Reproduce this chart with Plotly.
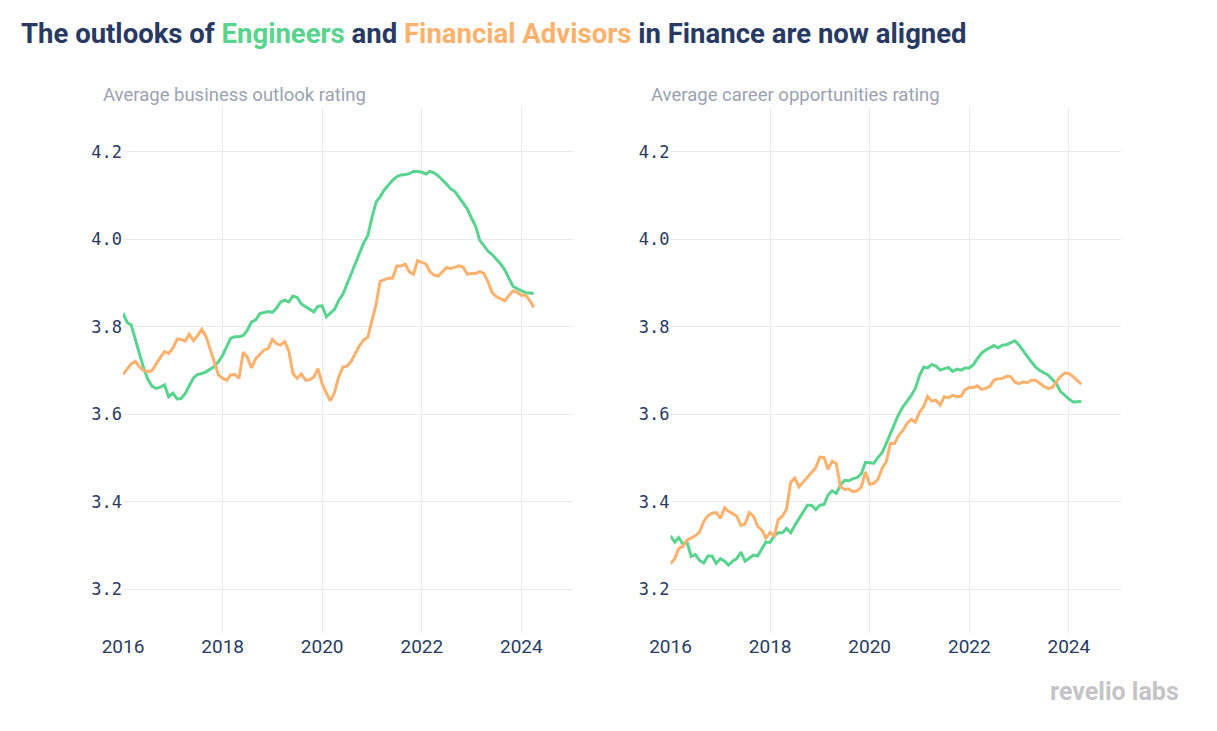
import pandas as pd
import plotly.graph_objects as go

months = pd.date_range("2016-01-01", periods=100, freq="MS")

business_engineers = [
    3.831, 3.810, 3.804, 3.772, 3.738, 3.705, 3.680, 3.664, 3.659, 3.662,
    3.667, 3.640, 3.648, 3.635, 3.636, 3.647, 3.665, 3.683, 3.691, 3.693,
    3.697, 3.702, 3.709, 3.720, 3.735, 3.755, 3.774, 3.777, 3.777, 3.780,
    3.792, 3.811, 3.816, 3.830, 3.832, 3.835, 3.833, 3.843, 3.856, 3.861,
    3.857, 3.870, 3.867, 3.852, 3.846, 3.840, 3.834, 3.847, 3.848, 3.823,
    3.831, 3.840, 3.860, 3.874, 3.897, 3.921, 3.946, 3.970, 3.992, 4.008,
    4.051, 4.086, 4.097, 4.113, 4.125, 4.135, 4.143, 4.147, 4.148, 4.150,
    4.155, 4.155, 4.153, 4.149, 4.155, 4.152, 4.145, 4.136, 4.126, 4.115,
    4.109, 4.096, 4.082, 4.069, 4.048, 4.029, 3.998, 3.986, 3.973, 3.965,
    3.955, 3.944, 3.930, 3.912, 3.892, 3.887, 3.882, 3.878, 3.877, 3.876,
]
business_advisors = [
    3.691, 3.703, 3.715, 3.721, 3.708, 3.700, 3.697, 3.700, 3.716, 3.730,
    3.743, 3.739, 3.751, 3.772, 3.771, 3.767, 3.783, 3.768, 3.780, 3.794,
    3.778, 3.748, 3.715, 3.690, 3.682, 3.678, 3.690, 3.691, 3.682, 3.742,
    3.730, 3.706, 3.727, 3.736, 3.747, 3.750, 3.771, 3.761, 3.758, 3.766,
    3.745, 3.693, 3.682, 3.692, 3.678, 3.679, 3.685, 3.704, 3.670, 3.648,
    3.631, 3.650, 3.685, 3.708, 3.710, 3.721, 3.738, 3.757, 3.770, 3.776,
    3.815, 3.853, 3.904, 3.908, 3.911, 3.911, 3.939, 3.939, 3.943, 3.926,
    3.920, 3.951, 3.947, 3.943, 3.926, 3.918, 3.916, 3.925, 3.935, 3.933,
    3.936, 3.939, 3.936, 3.920, 3.922, 3.922, 3.926, 3.922, 3.903, 3.878,
    3.869, 3.864, 3.859, 3.871, 3.882, 3.879, 3.872, 3.872, 3.861, 3.844,
]
career_engineers = [
    3.322, 3.308, 3.318, 3.303, 3.308, 3.275, 3.279, 3.266, 3.260, 3.276,
    3.276, 3.259, 3.270, 3.264, 3.255, 3.264, 3.270, 3.285, 3.264, 3.272,
    3.278, 3.276, 3.293, 3.308, 3.307, 3.323, 3.329, 3.329, 3.339, 3.329,
    3.346, 3.362, 3.379, 3.392, 3.392, 3.382, 3.392, 3.394, 3.415, 3.425,
    3.419, 3.438, 3.449, 3.448, 3.453, 3.455, 3.464, 3.490, 3.489, 3.488,
    3.501, 3.512, 3.533, 3.556, 3.579, 3.600, 3.617, 3.630, 3.643, 3.659,
    3.689, 3.708, 3.706, 3.714, 3.710, 3.701, 3.704, 3.707, 3.698, 3.703,
    3.701, 3.706, 3.706, 3.714, 3.727, 3.740, 3.747, 3.753, 3.757, 3.752,
    3.758, 3.759, 3.764, 3.768, 3.758, 3.746, 3.733, 3.720, 3.708, 3.700,
    3.695, 3.690, 3.680, 3.670, 3.652, 3.643, 3.635, 3.628, 3.628, 3.629,
]
career_advisors = [
    3.258, 3.270, 3.293, 3.298, 3.312, 3.317, 3.322, 3.331, 3.355, 3.368,
    3.374, 3.375, 3.362, 3.386, 3.378, 3.373, 3.367, 3.346, 3.349, 3.375,
    3.367, 3.344, 3.335, 3.317, 3.330, 3.322, 3.359, 3.367, 3.383, 3.445,
    3.454, 3.434, 3.445, 3.455, 3.468, 3.478, 3.502, 3.501, 3.474, 3.493,
    3.487, 3.434, 3.428, 3.429, 3.423, 3.425, 3.434, 3.468, 3.440, 3.442,
    3.451, 3.476, 3.491, 3.533, 3.533, 3.552, 3.563, 3.579, 3.588, 3.582,
    3.605, 3.618, 3.641, 3.630, 3.632, 3.621, 3.640, 3.638, 3.643, 3.640,
    3.641, 3.656, 3.661, 3.661, 3.665, 3.657, 3.659, 3.664, 3.678, 3.681,
    3.682, 3.687, 3.686, 3.673, 3.670, 3.674, 3.672, 3.678, 3.678, 3.670,
    3.664, 3.659, 3.661, 3.674, 3.686, 3.694, 3.693, 3.686, 3.678, 3.669,
]

x_tick_years = ["2016", "2018", "2020", "2022", "2024"]
y_ticks = [3.2, 3.4, 3.6, 3.8, 4.0, 4.2]
panel_titles = ["Average business outlook rating", "Average career opportunities rating"]

GREEN = "#58d48e"
ORANGE = "#fcb16c"
NAVY = "#283a62"
GRID = "#e9e9ee"

W, H = 1217, 731

fig = go.Figure()
fig.add_trace(go.Scatter(x=months, y=business_engineers, mode="lines",
                         line=dict(color=GREEN, width=3), xaxis="x", yaxis="y",
                         name="Engineers", showlegend=False))
fig.add_trace(go.Scatter(x=months, y=business_advisors, mode="lines",
                         line=dict(color=ORANGE, width=3), xaxis="x", yaxis="y",
                         name="Financial Advisors", showlegend=False))
fig.add_trace(go.Scatter(x=months, y=career_engineers, mode="lines",
                         line=dict(color=GREEN, width=3), xaxis="x2", yaxis="y2",
                         name="Engineers", showlegend=False))
fig.add_trace(go.Scatter(x=months, y=career_advisors, mode="lines",
                         line=dict(color=ORANGE, width=3), xaxis="x2", yaxis="y2",
                         name="Financial Advisors", showlegend=False))

x_left = [123 / W, 573 / W]
x_right = [670.5 / W, 1120.5 / W]
y_dom = [(H - 633) / H, (H - 108) / H]

xcommon = dict(
    type="date",
    range=["2016-01-01", "2025-01-14"],
    tickvals=[f"{y}-01-01" for y in x_tick_years],
    ticktext=x_tick_years,
    showgrid=True, gridcolor=GRID, gridwidth=1,
    zeroline=False, showline=False, ticks="",
    tickfont=dict(family="Roboto", size=19, color=NAVY),
    automargin=False,
)
ycommon = dict(
    range=[3.1, 4.3],
    tickvals=y_ticks,
    tickformat=".1f",
    showgrid=True, gridcolor=GRID, gridwidth=1,
    zeroline=False, showline=False, ticks="",
    tickfont=dict(family="DejaVu Sans Mono", size=17, color=NAVY),
    automargin=False,
)

fig.update_layout(
    width=W, height=H,
    margin=dict(l=0, r=0, t=0, b=0),
    paper_bgcolor="white", plot_bgcolor="white",
    xaxis=dict(domain=x_left, anchor="y", **xcommon),
    yaxis=dict(domain=y_dom, anchor="x", **ycommon),
    xaxis2=dict(domain=x_right, anchor="y2", **xcommon),
    yaxis2=dict(domain=y_dom, anchor="x2", **ycommon),
    font=dict(family="Roboto"),
)

title_html = (
    "<b>The outlooks of <span style='color:%s'>Engineers</span> and "
    "<span style='color:%s'>Financial Advisors</span> in Finance are now aligned</b>"
    % (GREEN, ORANGE)
)
fig.add_annotation(text=title_html, xref="paper", yref="paper",
                   x=19 / W, y=1 - 33 / H, xanchor="left", yanchor="middle",
                   showarrow=False, font=dict(family="Roboto", size=27.5, color=NAVY))
fig.add_annotation(text=panel_titles[0], xref="paper", yref="paper",
                   x=101 / W, y=1 - 95 / H, xanchor="left", yanchor="middle",
                   showarrow=False, font=dict(family="Roboto", size=18.5, color="#9ba2b1"))
fig.add_annotation(text=panel_titles[1], xref="paper", yref="paper",
                   x=649 / W, y=1 - 95 / H, xanchor="left", yanchor="middle",
                   showarrow=False, font=dict(family="Roboto", size=18.5, color="#9ba2b1"))
fig.add_annotation(text="<b>revelio labs</b>", xref="paper", yref="paper",
                   x=1181 / W, y=1 - 691 / H, xanchor="right", yanchor="middle",
                   showarrow=False, font=dict(family="Roboto", size=25, color="#c4c4c8"))

fig.write_html("out.html", config={"displayModeBar": False},
               post_script="document.body.style.margin='0';")
